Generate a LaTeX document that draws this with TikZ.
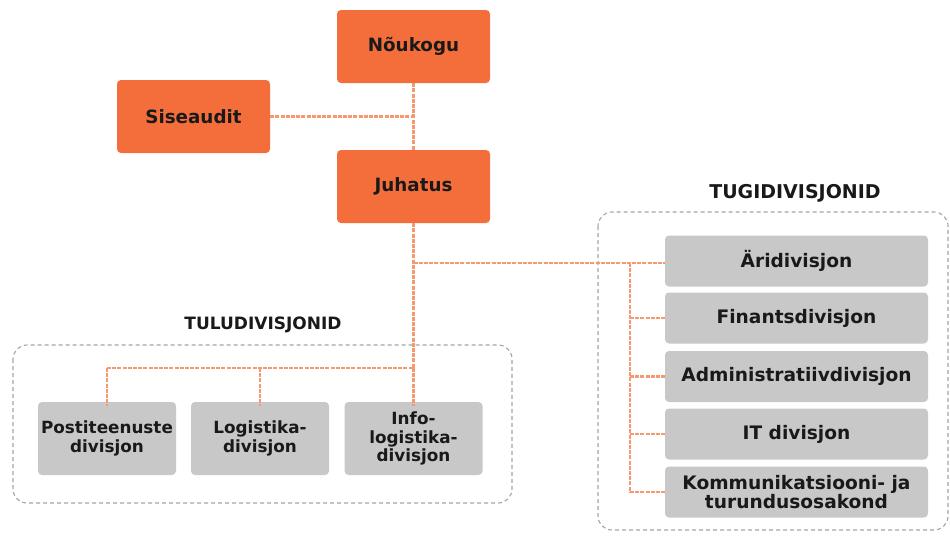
\documentclass[tikz,border=0pt]{standalone}
\usepackage{fontspec}
\setmainfont{DejaVu Sans}
\definecolor{org}{RGB}{243,110,58}
\definecolor{conn}{RGB}{246,152,112}
\definecolor{gbox}{RGB}{200,200,200}
\definecolor{dbox}{RGB}{165,165,165}
\definecolor{txt}{RGB}{25,25,25}
\tikzset{
  topbox/.style={fill=org, rounded corners=4pt, minimum width=153pt, minimum height=73pt, inner sep=0pt, font=\bfseries\fontsize{18.3}{20}\selectfont, text=txt, align=center},
  tulubox/.style={fill=gbox, rounded corners=4pt, minimum width=138pt, minimum height=73pt, inner sep=0pt, font=\bfseries\fontsize{16.8}{18.3}\selectfont, text=txt, align=center},
  tugibox/.style={fill=gbox, rounded corners=4pt, minimum width=263pt, minimum height=51pt, inner sep=0pt, font=\bfseries\fontsize{18.6}{19.3}\selectfont, text=txt, align=center},
  conline/.style={draw=conn, line width=2.2pt, dash pattern=on 4pt off 1.2pt},
  groupbox/.style={draw=dbox, line width=1.1pt, dash pattern=on 4pt off 3pt, rounded corners=14pt},
  tululabel/.style={font=\bfseries\fontsize{17}{18}\selectfont, text=txt},
  tugilabel/.style={font=\bfseries\fontsize{19}{20}\selectfont, text=txt}
}
\begin{document}
\begin{tikzpicture}[x=1pt,y=-1pt]
\useasboundingbox (0,0) rectangle (950,541);
% group frames
\draw[groupbox] (13,345) rectangle (512,503);
\draw[groupbox] (598,212) rectangle (948,530);
\node[tululabel] (tulul) at (263,325) {TULUDIVISJONID};
\node[tugilabel] (tugil) at (795,193) {TUGIDIVISJONID};
% top
\node[topbox] (nou) at (413.5,46.5) {Nõukogu};
\node[topbox] (sis) at (193.5,116.5) {Siseaudit};
\node[topbox] (juh) at (413.5,186.5) {Juhatus};
% tulu
\node[tulubox] (post) at (107,438.5) {Postiteenuste\\divisjon};
\node[tulubox] (logi) at (260,438.5) {Logistika-\\divisjon};
\node[tulubox] (info) at (413.5,438.5) {Info-\\logistika-\\divisjon};
% tugi
\node[tugibox] (ari) at (796.5,261) {Äridivisjon};
\node[tugibox] (fin) at (796.5,318) {Finantsdivisjon};
\node[tugibox] (adm) at (796.5,376.5) {Administratiivdivisjon};
\node[tugibox] (it) at (796.5,434) {IT divisjon};
\node[tugibox] (kom) at (796.5,492) {Kommunikatsiooni- ja\\turundusosakond};
% joins
\coordinate (tulujoin) at (413.5,368);
\coordinate (tugijoin) at (413.5,263);
\coordinate (spine) at (630,263);
% connectors
\draw[conline] (nou.south) -- (juh.north);
\draw[conline] (sis.east) -- (sis.east -| nou.south);
\draw[conline] (juh.south) -- (tulujoin);
\draw[conline] (tugijoin) -- (tugijoin -| ari.west);
\draw[conline] (spine) -- (spine |- kom.west);
\draw[conline] (spine |- fin.west) -- (fin.west);
\draw[conline] (spine |- adm.west) -- (adm.west);
\draw[conline] (spine |- it.west) -- (it.west);
\draw[conline] (spine |- kom.west) -- (kom.west);
\draw[conline] (post.north |- tulujoin) -- (info.north |- tulujoin);
\draw[conline] (post.north |- tulujoin) -- ([yshift=-4pt]post.north);
\draw[conline] (logi.north |- tulujoin) -- ([yshift=-4pt]logi.north);
\draw[conline] (info.north |- tulujoin) -- ([yshift=-4pt]info.north);
\end{tikzpicture}
\end{document}
